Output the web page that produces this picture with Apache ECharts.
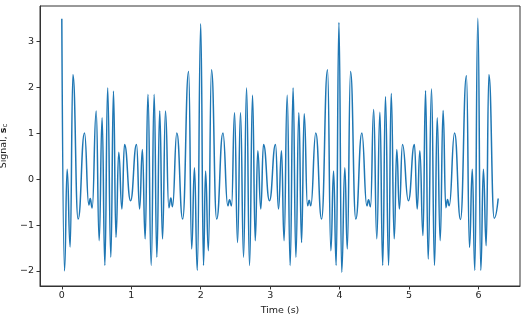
<!DOCTYPE html>
<html>
<head>
<meta charset="utf-8">
<script src="https://cdn.jsdelivr.net/npm/echarts@6/dist/echarts.min.js"></script>
<style>html,body{margin:0;padding:0;background:#fff}#c{width:526px;height:315px}</style>
</head>
<body>
<div id="c"></div>
<script>
// Time (s) of each turning point
const times = [
  0.000, 0.039, 0.077, 0.120, 0.160, 0.235, 0.327, 0.389, 0.409, 0.437,
  0.495, 0.538, 0.580, 0.620, 0.660, 0.706, 0.744, 0.780, 0.820, 0.865,
  0.903, 0.990,
  1.076, 1.120, 1.160, 1.200, 1.240, 1.287, 1.330, 1.368, 1.410, 1.450,
  1.493, 1.541, 1.570, 1.594, 1.656, 1.740, 1.826, 1.870, 1.910, 1.950,
  2.000,
  2.040, 2.070, 2.110, 2.155, 2.230, 2.320, 2.390, 2.415, 2.444, 2.487,
  2.530, 2.573, 2.617, 2.660, 2.703, 2.746, 2.785, 2.822, 2.865, 2.904,
  2.990,
  3.077, 3.120, 3.163, 3.200, 3.245, 3.288, 3.330, 3.370, 3.413, 3.452,
  3.490, 3.538, 3.562, 3.585, 3.657, 3.740, 3.826, 3.874, 3.913, 3.950,
  3.990,
  4.030, 4.075, 4.110, 4.157, 4.233, 4.320, 4.392, 4.416, 4.445, 4.490,
  4.535, 4.580, 4.620, 4.660, 4.705, 4.743, 4.786, 4.823, 4.860, 4.905,
  4.990,
  5.077, 5.117, 5.155, 5.200, 5.237, 5.275, 5.323, 5.366, 5.405, 5.448,
  5.490, 5.529, 5.553, 5.578, 5.655, 5.740, 5.826, 5.870, 5.910, 5.946,
  5.990,
  6.033, 6.070, 6.110, 6.149, 6.226, 6.283
];
// Signal value at each of those points
const signal = [
  3.50, -2.00, 0.22, -1.48, 2.28, -0.87, 1.01, -0.56, -0.42, -0.63,
  1.49, -1.34, 1.34, -1.88, 1.99, -1.70, 1.92, -1.27, 0.59, -0.65,
  0.76, -0.47,
  0.76, -0.65, 0.65, -1.30, 1.85, -1.88, 1.85, -1.70, 1.49, -1.30,
  1.49, -0.62, -0.41, -0.60, 1.01, -0.87, 2.35, -1.52, 0.25, -1.99,
  3.39,
  -1.88, 0.18, -1.56, 2.39, -0.87, 1.01, -0.58, -0.45, -0.58, 1.45,
  -1.38, 1.45, -1.70, 1.99, -1.88, 1.83, -1.34, 0.62, -0.65, 0.76,
  -0.47,
  0.76, -0.65, 0.62, -1.34, 1.83, -1.88, 1.99, -1.70, 1.45, -1.38,
  1.43, -0.58, -0.46, -0.58, 1.01, -0.87, 2.39, -1.56, 0.18, -1.88,
  3.42,
  -2.03, 0.25, -1.52, 2.35, -0.87, 1.01, -0.58, -0.45, -0.60, 1.52,
  -1.30, 1.46, -1.88, 1.80, -1.88, 1.87, -1.30, 0.65, -0.65, 0.76,
  -0.47,
  0.76, -0.65, 0.62, -1.23, 1.93, -1.74, 1.97, -1.88, 1.34, -1.34,
  1.50, -0.62, -0.44, -0.58, 1.01, -0.88, 2.26, -1.49, 0.22, -1.99,
  3.51,
  -1.99, 0.22, -1.45, 2.28, -0.85, -0.42
];
const xTicks = [0, 1, 2, 3, 4, 5, 6];
const yTicks = [-2, -1, 0, 1, 2, 3];

const data = times.map((t, i) => [t, signal[i]]);
const minus = v => String(v).replace('-', '\u2212');
const axisColor = '#333';
const font = 'DejaVu Sans';

const chart = echarts.init(document.getElementById('c'), null, {renderer: 'canvas'});
chart.setOption({
  animation: false,
  backgroundColor: '#fff',
  grid: {left: 40, right: 6, top: 6, bottom: 29, outerBoundsMode: 'none', containLabel: false,
         show: true, borderColor: axisColor, borderWidth: 1, backgroundColor: 'transparent'},
  xAxis: {
    type: 'value', min: -0.314, max: 6.597,
    name: 'Time (s)', nameLocation: 'middle', nameGap: 16,
    nameTextStyle: {fontFamily: font, fontSize: 9.5, color: '#222'},
    splitLine: {show: false},
    axisLine: {show: true, onZero: false, lineStyle: {color: axisColor, width: 1}},
    axisTick: {show: true, inside: false, length: 3.5, customValues: xTicks, lineStyle: {color: axisColor}},
    axisLabel: {customValues: xTicks, formatter: minus, fontFamily: font, fontSize: 9.5, color: '#222', margin: 5}
  },
  yAxis: {
    type: 'value', min: -2.33, max: 3.78,
    name: 'Signal, {b|s}{c|c}', nameLocation: 'middle', nameGap: 24, nameRotate: 90,
    nameTextStyle: {fontFamily: font, fontSize: 9.5, color: '#222',
      rich: {b: {fontFamily: font, fontSize: 9.5, fontWeight: 'bold', color: '#222'},
             c: {fontFamily: font, fontSize: 7, color: '#222', verticalAlign: 'bottom', padding: [4, 0, 0, 0]}}},
    splitLine: {show: false},
    axisLine: {show: true, onZero: false, lineStyle: {color: axisColor, width: 1}},
    axisTick: {show: true, inside: false, length: 3.5, customValues: yTicks, lineStyle: {color: axisColor}},
    axisLabel: {customValues: yTicks, formatter: minus, fontFamily: font, fontSize: 9.5, color: '#222', margin: 6}
  },
  series: [{
    type: 'line', data: data, showSymbol: false, symbol: 'none',
    smooth: 0.5, smoothMonotone: 'x',
    lineStyle: {color: '#1f77b4', width: 1.5}
  }]
});
</script>
</body>
</html>
